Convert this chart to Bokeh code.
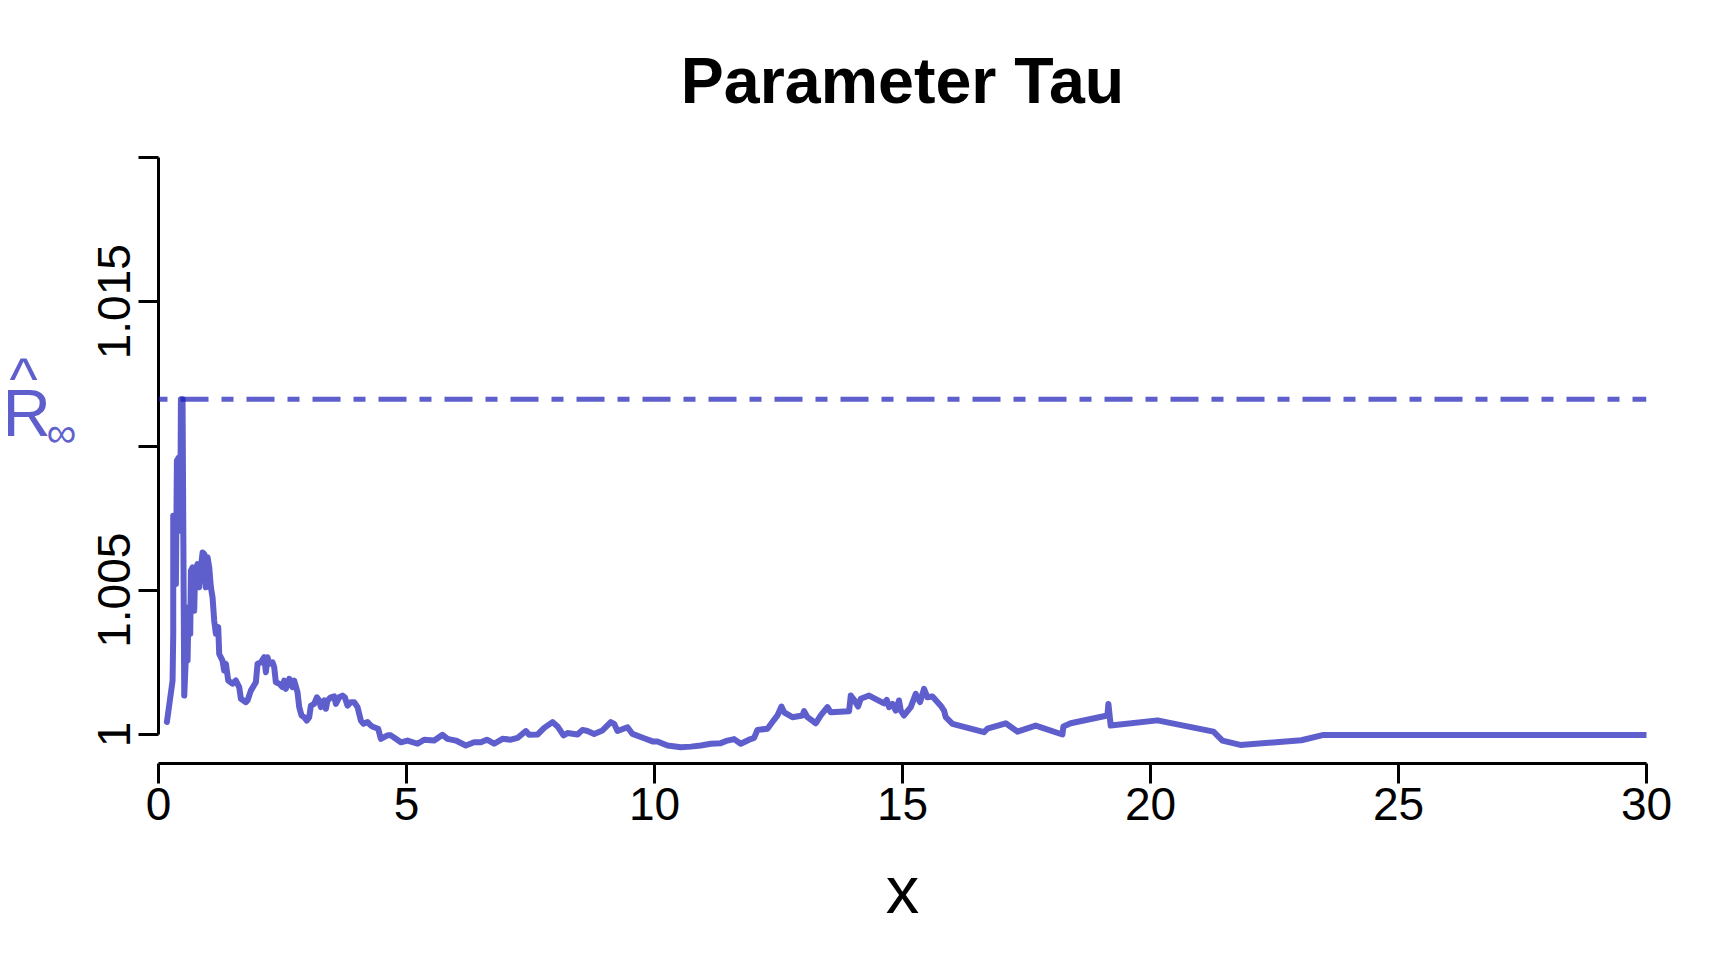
from bokeh.plotting import figure
from bokeh.models import Range1d, FixedTicker, Span
from bokeh.layouts import row
from bokeh.core.properties import value
from bokeh.embed import file_html
from bokeh.resources import INLINE

# ---- data ----
x_vals = [0.169, 0.284, 0.297, 0.297, 0.337, 0.351, 0.371, 0.405, 0.438, 0.452, 0.485, 0.519,
          0.552, 0.586, 0.606, 0.640, 0.653, 0.687, 0.720, 0.740, 0.788, 0.821, 0.855, 0.889,
          0.922, 0.955, 0.989, 1.023, 1.056, 1.090, 1.123, 1.157, 1.204, 1.224, 1.290, 1.324,
          1.359, 1.406, 1.490, 1.560, 1.627, 1.661, 1.762, 1.795, 1.862, 1.963, 1.997, 2.064,
          2.131, 2.165, 2.198, 2.232, 2.300, 2.333, 2.366, 2.434, 2.501, 2.535, 2.568, 2.635,
          2.669, 2.703, 2.736, 2.803, 2.837, 2.884, 2.937, 2.990, 3.038, 3.072, 3.139, 3.193,
          3.240, 3.273, 3.307, 3.340, 3.374, 3.408, 3.475, 3.542, 3.576, 3.643, 3.711, 3.757,
          3.811, 3.878, 3.945, 4.013, 4.080, 4.134, 4.215, 4.281, 4.348, 4.429, 4.483, 4.550,
          4.617, 4.684, 4.785, 4.886,
          5.021, 5.222, 5.356, 5.558, 5.726, 5.827, 5.995, 6.196, 6.364, 6.499, 6.620, 6.767,
          6.936, 7.103, 7.238, 7.406, 7.472, 7.641, 7.775, 7.944, 8.045, 8.165, 8.246, 8.448,
          8.548, 8.649, 8.783, 8.951, 9.119, 9.186, 9.254, 9.456, 9.556, 9.790, 9.960, 10.060,
          10.262, 10.530, 10.732, 10.933, 11.135, 11.336, 11.471, 11.605, 11.739, 11.907,
          12.008, 12.076, 12.278,
          12.411, 12.479, 12.560, 12.613, 12.781, 12.983, 13.016, 13.084, 13.251, 13.352,
          13.487, 13.554, 13.923, 13.957, 14.024, 14.104, 14.158, 14.326, 14.628, 14.683,
          14.729, 14.797, 14.864, 14.930, 14.965, 15.031, 15.166, 15.267, 15.354, 15.434,
          15.503, 15.604, 15.771, 15.838, 15.872, 16.007, 16.644, 16.712, 17.081, 17.317,
          17.686, 18.224, 18.244, 18.391, 19.131, 19.151, 19.198, 20.140,
          21.270, 21.450, 21.810, 23.040, 23.470, 30.000]

rhat_vals = [1.00043, 1.00187, 1.00349, 1.00758, 1.00758, 1.00522, 1.00949, 1.00960, 1.00706,
             1.01162, 1.01162, 1.00135, 1.00268, 1.00256, 1.00441, 1.00349, 1.00568, 1.00579,
             1.00429, 1.00568, 1.00591, 1.00510, 1.00579, 1.00631, 1.00626, 1.00510, 1.00614,
             1.00579, 1.00510, 1.00475, 1.00395, 1.00349, 1.00372, 1.00279, 1.00256, 1.00222,
             1.00245, 1.00187, 1.00176, 1.00187, 1.00164, 1.00124, 1.00112, 1.00118, 1.00152,
             1.00181, 1.00245, 1.00250, 1.00268, 1.00216, 1.00268, 1.00245, 1.00250, 1.00233,
             1.00181, 1.00176, 1.00164, 1.00187, 1.00158, 1.00193, 1.00181, 1.00164, 1.00187,
             1.00146, 1.00095, 1.00066, 1.00060, 1.00048, 1.00060, 1.00100, 1.00106, 1.00129,
             1.00118, 1.00095, 1.00112, 1.00118, 1.00089, 1.00118, 1.00129, 1.00132, 1.00106,
             1.00129, 1.00135, 1.00129, 1.00100, 1.00112, 1.00112, 1.00095, 1.00048, 1.00037,
             1.00043, 1.00031, 1.00025, 1.00020, 0.99985, 0.99991, 0.99997, 0.99997, 0.99985,
             0.99973,
             0.99979, 0.99968, 0.99982, 0.99979, 0.99999, 0.99985, 0.99979, 0.99962, 0.99973,
             0.99973, 0.99982, 0.99968, 0.99985, 0.99982, 0.99988, 1.00012, 0.99999, 1.00000,
             1.00023, 1.00043, 1.00028, 0.99997, 1.00005, 1.00000, 1.00016, 1.00012, 1.00002,
             1.00014, 1.00043, 1.00037, 1.00012, 1.00025, 1.00002, 0.99987, 0.99976, 0.99976,
             0.99962, 0.99956, 0.99958, 0.99962, 0.99968, 0.99970, 0.99979, 0.99984, 0.99968,
             0.99982, 0.99988, 1.00016, 1.00020,
             1.00051, 1.00066, 1.00097, 1.00077, 1.00060, 1.00066, 1.00081, 1.00060, 1.00039,
             1.00066, 1.00095, 1.00077, 1.00081, 1.00135, 1.00120, 1.00097, 1.00124, 1.00135,
             1.00108, 1.00120, 1.00095, 1.00106, 1.00083, 1.00118, 1.00083, 1.00066, 1.00095,
             1.00141, 1.00112, 1.00158, 1.00129, 1.00132, 1.00100, 1.00083, 1.00060, 1.00037,
             1.00008, 1.00020, 1.00039, 1.00010, 1.00031, 1.00000, 1.00028, 1.00039, 1.00066,
             1.00106, 1.00031, 1.00049,
             1.00010, 0.99979, 0.99964, 0.99980, 0.99998, 0.99998]

threshold = 1.01162
x_ticks = [0, 5, 10, 15, 20, 25, 30]
y_ticks = [1.0, 1.005, 1.01, 1.015, 1.02]
y_tick_labels = ["1", "1.005", "", "1.015", ""]

# y-axis symbol pieces: R, hat, subscript infinity
ylab_text = ["R", "^", "\u221e"]

COLOR = "#1A1AB6"
ALPHA = 0.7
FONT = "Liberation Sans"

LEFT_W = 77
MAIN_W = 1728 - LEFT_W
H = 960

# ---------- small left panel carrying the y symbol ----------
lp = figure(width=LEFT_W, height=H, output_backend="svg", toolbar_location=None,
            x_range=Range1d(0, LEFT_W), y_range=Range1d(H, 0),
            x_axis_type=None, y_axis_type=None,
            min_border_left=0, min_border_right=0, min_border_top=0, min_border_bottom=0)
lp.outline_line_color = None
lp.xgrid.visible = False
lp.ygrid.visible = False
lp.background_fill_color = "white"
lp.border_fill_color = "white"
lp.text(x=[2], y=[404], text=ylab_text[0:1], text_font=value(FONT), text_font_size="67px",
        text_color=COLOR, text_alpha=ALPHA, text_align="left", text_baseline="alphabetic")
lp.text(x=[23], y=[352], text=ylab_text[1:2], text_font=value(FONT), text_font_size="60px",
        text_color=COLOR, text_alpha=ALPHA, text_align="center", text_baseline="alphabetic")
lp.text(x=[46], y=[435], text=ylab_text[2:3], text_font=value(FONT), text_font_size="42px",
        text_color=COLOR, text_alpha=ALPHA, text_align="left", text_baseline="alphabetic")

# ---------- main plot ----------
p = figure(width=MAIN_W, height=H, output_backend="svg", toolbar_location=None,
           x_range=Range1d(0, 30), y_range=Range1d(0.998995, 1.02),
           min_border_left=158 - LEFT_W, min_border_right=82,
           min_border_top=157, min_border_bottom=197)

p.background_fill_color = "white"
p.border_fill_color = "white"
p.outline_line_color = None
p.xgrid.visible = False
p.ygrid.visible = False

# title
p.title.text = "Parameter Tau"
p.title.text_font = FONT
p.title.text_font_size = "64.5px"
p.title.text_font_style = "bold"
p.title.text_color = "black"
p.title.align = "center"
p.title.standoff = 82

# x axis
xa = p.xaxis[0]
xa.ticker = FixedTicker(ticks=x_ticks)
xa.bounds = (0, 30)
xa.axis_line_width = 3
xa.axis_line_color = "black"
xa.major_tick_line_width = 3
xa.major_tick_line_color = "black"
xa.major_tick_out = 20
xa.major_tick_in = 0
xa.minor_tick_line_color = None
xa.major_label_text_font = FONT
xa.major_label_text_font_size = "46px"
xa.major_label_text_color = "black"
xa.major_label_standoff = 4
xa.axis_label = "x"
xa.axis_label_text_font = FONT
xa.axis_label_text_font_size = "67px"
xa.axis_label_text_font_style = "normal"
xa.axis_label_text_color = "black"
xa.axis_label_standoff = 29

# y axis
ya = p.yaxis[0]
ya.ticker = FixedTicker(ticks=y_ticks)
ya.bounds = (1.0, 1.02)
ya.major_label_overrides = {t: l for t, l in zip(y_ticks, y_tick_labels)}
ya.major_label_orientation = "vertical"
ya.axis_line_width = 3
ya.axis_line_color = "black"
ya.major_tick_line_width = 3
ya.major_tick_line_color = "black"
ya.major_tick_out = 20
ya.major_tick_in = 0
ya.minor_tick_line_color = None
ya.major_label_text_font = FONT
ya.major_label_text_font_size = "46px"
ya.major_label_text_color = "black"
ya.major_label_standoff = 8

# threshold line
p.add_layout(Span(location=threshold, dimension="width", line_color=COLOR, line_alpha=ALPHA,
                  line_width=5, line_dash="12 13 28 13", line_dash_offset=3))

# R-hat trace
p.line(x_vals, rhat_vals, line_color=COLOR, line_alpha=ALPHA, line_width=6,
       line_join="round", line_cap="round")

layout = row(lp, p, spacing=0)
open("out.html", "w").write(file_html(layout, INLINE))
